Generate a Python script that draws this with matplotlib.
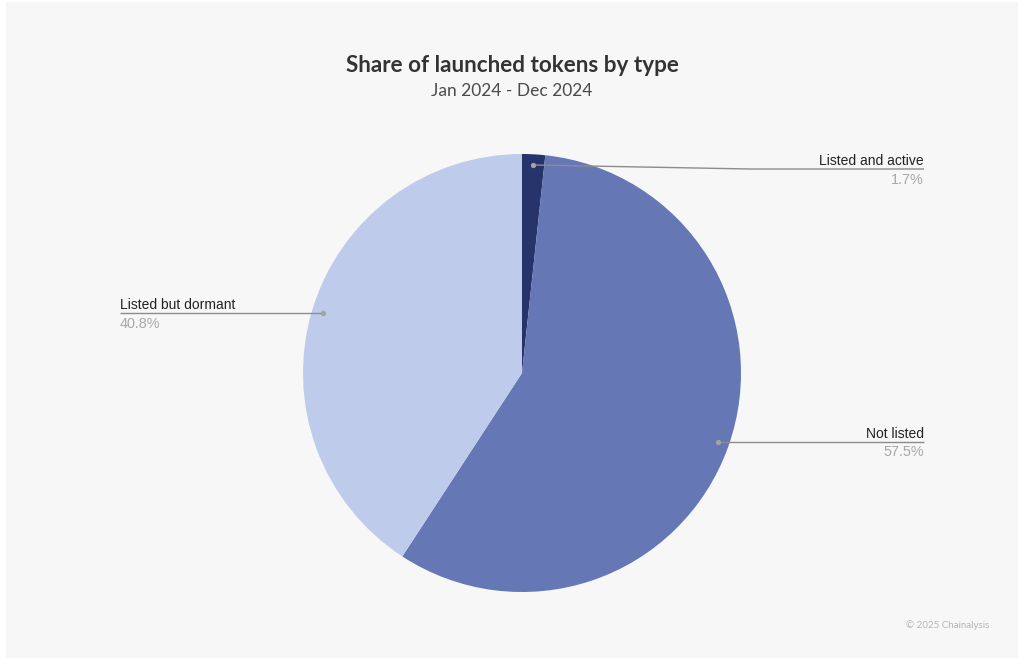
"""Share of launched tokens by type, pie with leader lines."""

import matplotlib

matplotlib.use("Agg")
import matplotlib.pyplot as plt  # noqa: E402
from matplotlib.patches import Rectangle  # noqa: E402

categories = ["Listed and active", "Not listed", "Listed but dormant"]
shares = [1.7, 57.5, 40.8]
share_labels = ["1.7%", "57.5%", "40.8%"]
colors = ["#27336b", "#6577b5", "#bfcbeb"]

W, H = 1024, 664


def py(y):
    # reference pixel rows run downwards
    return H - y


fig = plt.figure(figsize=(W / 100, H / 100), dpi=100, facecolor="white")
ax = fig.add_axes([0, 0, 1, 1])

ax.add_patch(Rectangle((6, py(658)), 1012, 656, facecolor="#f7f7f7", edgecolor="none", zorder=0))

ax.pie(
    shares,
    colors=colors,
    startangle=90,
    counterclock=False,
    center=(522, py(373)),
    radius=219,
    frame=True,
    wedgeprops={"linewidth": 0, "zorder": 1},
)
ax.set_xlim(0, W)
ax.set_ylim(0, H)
ax.set_aspect("equal")
ax.axis("off")

# leader path per category: (x, y) in reference pixels, text side
leaders = [
    ([533, 750, 924], [165, 169, 169], 924, "right"),
    ([718, 924], [442, 442], 924, "right"),
    ([323, 120], [313, 313], 120, "left"),
]
for name, pct, (xs, ys, tx, ha) in zip(categories, share_labels, leaders):
    ax.plot(xs, [py(y) for y in ys], color="#8c8c8c", lw=1.0, zorder=3, solid_capstyle="butt")
    ax.plot(xs[0], py(ys[0]), "o", color="#a3a3a3", ms=3.8, mew=0, zorder=4)
    ax.text(tx, py(ys[-1] - 1), name, ha=ha, va="bottom", fontsize=10,
            family="Liberation Sans", color="#222222", zorder=5)
    ax.text(tx, py(ys[-1] + 3.5), pct, ha=ha, va="top", fontsize=10.4,
            family="Liberation Sans", color="#a8a8a8", zorder=5)

ax.text(512, py(65.5), "Share of launched tokens by type", ha="center", va="center",
        fontsize=16.2, fontweight="bold", family="Lato", color="#333333")
ax.text(512, py(91), "Jan 2024 - Dec 2024", ha="center", va="center",
        fontsize=12.5, family="Lato", color="#4a4a4a")
ax.text(989, py(625), "© 2025 Chainalysis", ha="right", va="center",
        fontsize=7, family="Lato", color="#b5b5b5")

fig.savefig("out.png", dpi=100, facecolor="white")
plt.close(fig)
